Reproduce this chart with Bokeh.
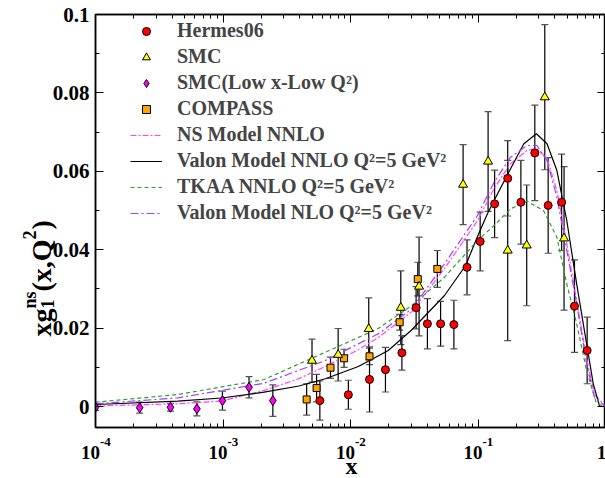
import math
from bokeh.plotting import figure
from bokeh.models import (Range1d, LogAxis, LinearAxis, FixedTicker, NumeralTickFormatter,
                          CustomJSTickFormatter, Whisker, TeeHead, ColumnDataSource,
                          Legend, LegendItem)
from bokeh.core.properties import value
from bokeh.embed import file_html
from bokeh.resources import INLINE

# ---------------- data ----------------
hermes_x = [0.00575, 0.00962, 0.0141, 0.0188, 0.0253, 0.0327, 0.0401, 0.0509, 0.0647, 0.082,
            0.104, 0.135, 0.171, 0.217, 0.279, 0.355, 0.453, 0.571, 0.718]
hermes_y = [0.0015, 0.0030, 0.0069, 0.0094, 0.0137, 0.0252, 0.0211, 0.0211, 0.0209, 0.0355,
            0.0421, 0.0517, 0.0582, 0.0521, 0.0647, 0.0513, 0.0521, 0.0256, 0.0143]
hermes_e = [0.0050, 0.0037, 0.0083, 0.0057, 0.0044, 0.0054, 0.0064, 0.0057, 0.0062, 0.0070,
            0.0075, 0.0086, 0.0096, 0.0107, 0.0122, 0.0122, 0.0123, 0.0118, 0.0085]

smc_x = [0.00499, 0.0080, 0.0139, 0.0248, 0.0345, 0.0764, 0.120, 0.171, 0.241, 0.334, 0.473]
smc_y = [0.0117, 0.0132, 0.0198, 0.0252, 0.0306, 0.0566, 0.0625, 0.0398, 0.0411, 0.0789, 0.0429]
smc_e = [0.0055, 0.0067, 0.0079, 0.0094, 0.0126, 0.0102, 0.0127, 0.0230, 0.0154, 0.0185, 0.0183]

smclow_x = [0.0001, 0.000222, 0.000387, 0.000624, 0.00099, 0.0016, 0.00246]
smclow_y = [-0.0002, -0.0003, -0.0002, -0.0006, 0.0015, 0.0049, 0.0015]
smclow_e = [0.0008, 0.0014, 0.0010, 0.0018, 0.0024, 0.0027, 0.0040]

compass_x = [0.00453, 0.00542, 0.00697, 0.0089, 0.0141, 0.0243, 0.0337, 0.048]
compass_y = [0.0018, 0.0047, 0.0099, 0.0123, 0.0128, 0.0215, 0.0325, 0.0351]
compass_e = [0.0040, 0.0035, 0.0027, 0.0023, 0.0021, 0.0020, 0.0043, 0.0047]

# Valon Model NNLO (black solid)
vnnlo_x = [1e-4, 4.43e-4, 9.73e-4, 2.10e-3, 3.94e-3, 6.35e-3, 0.01153, 0.01977, 0.02985, 0.0546,
           0.0800, 0.0991, 0.1186, 0.1337, 0.1800, 0.2290, 0.2871, 0.3477, 0.4156, 0.4969,
           0.5941, 0.7107, 0.8017, 0.8977, 1.0]
vnnlo_y = [0.00051, 0.00135, 0.00217, 0.00365, 0.00523, 0.00707, 0.01020, 0.01429, 0.01939, 0.02832,
           0.03597, 0.04337, 0.04916, 0.05255, 0.06064, 0.06702, 0.06957, 0.06702, 0.06020, 0.04745,
           0.03130, 0.01600, 0.00579, 0.00013, 0.0]

# TKAA NNLO (green dashed)
tkaa_x = [1e-4, 4.45e-4, 2.10e-3, 6.35e-3, 0.01652, 0.0303, 0.0546, 0.0991, 0.1337, 0.1800,
          0.2422, 0.3262, 0.4156, 0.4969, 0.5941, 0.7107, 0.8500, 1.0]
tkaa_y = [0.00110, 0.00306, 0.00689, 0.01385, 0.01990, 0.02577, 0.03298, 0.04235, 0.04617, 0.05043,
          0.05237, 0.05000, 0.04319, 0.03130, 0.02110, 0.00918, 0.00069, 0.0]

# Valon Model NLO (purple dash-dot)
vnlo_x = [1e-4, 4.45e-4, 2.10e-3, 6.35e-3, 0.01652, 0.0303, 0.0546, 0.0991, 0.1337, 0.1800,
          0.2422, 0.2895, 0.3477, 0.4156, 0.4969, 0.5941, 0.7107, 0.8191, 1.0]
vnlo_y = [0.00069, 0.00222, 0.00594, 0.01173, 0.01855, 0.02492, 0.03640, 0.04872, 0.05722, 0.06360,
          0.06658, 0.06658, 0.06276, 0.05339, 0.03980, 0.02620, 0.01089, 0.00237, 0.0]

# NS Model NNLO (pink dash-dot)
ns_x = [1e-4, 4.45e-4, 9.73e-4, 2.10e-3, 3.94e-3, 6.35e-3, 0.01153, 0.01652, 0.0303, 0.0546,
        0.0991, 0.1337, 0.1800, 0.2422, 0.2895, 0.3477, 0.4156, 0.4969, 0.5941, 0.7107, 0.8191, 1.0]
ns_y = [0.00013, 0.00069, 0.0014, 0.0041, 0.0071, 0.0102, 0.0145, 0.0176, 0.0242, 0.0352,
        0.0474, 0.0556, 0.0620, 0.0653, 0.0658, 0.0633, 0.0551, 0.0416, 0.0270, 0.0122, 0.0031, 0.0]

y_ticks = [0, 0.02, 0.04, 0.06, 0.08, 0.1]
y_minor = [0.01, 0.03, 0.05, 0.07, 0.09]
x_ticks = [1e-4, 1e-3, 1e-2, 1e-1, 1.0]
x_minor = [m * 10.0 ** e for e in range(-4, 0) for m in range(2, 10)]
x_tick_base = ["10", "10", "10", "10", "1"]
x_tick_exps = ["-4", "-3", "-2", "-1", ""]

legend_labels = ["Hermes06", "SMC", "SMC(Low x-Low Q\u00b2)", "COMPASS", "NS Model NNLO",
                 "Valon Model NNLO Q\u00b2=5 GeV\u00b2", "TKAA NNLO Q\u00b2=5 GeV\u00b2",
                 "Valon Model NLO Q\u00b2=5 GeV\u00b2"]

# ---------------- layout ----------------
W, H = 605, 478
FR_L, FR_R, FR_T, FR_B = 95, 605, 14, 427
YMAX = 0.1
YMIN = -0.1 * 21.0 / 392.0
FONT = "Liberation Serif"

def sx(px):
    return 10 ** (-4 + 4.0 * (px - FR_L) / (FR_R - FR_L))

def sy(py):
    return YMAX - (py - FR_T) * (YMAX - YMIN) / (FR_B - FR_T)

p = figure(width=W, height=H, x_axis_type="log", x_range=Range1d(1e-4, 1.0),
           y_range=Range1d(YMIN, YMAX), output_backend="svg", toolbar_location=None,
           min_border_left=FR_L, min_border_right=W - FR_R, min_border_top=FR_T,
           min_border_bottom=H - FR_B)
p.xgrid.visible = False
p.ygrid.visible = False
p.outline_line_color = "black"
p.outline_line_width = 1.5
p.background_fill_color = "white"
p.border_fill_color = "white"

empty = CustomJSTickFormatter(code="return ''")

def style_axis(ax, labels=True):
    ax.axis_line_width = 1.5
    ax.axis_line_color = "black"
    ax.major_tick_in = 8
    ax.major_tick_out = 0
    ax.minor_tick_in = 4
    ax.minor_tick_out = 0
    ax.major_tick_line_width = 1
    ax.minor_tick_line_width = 1
    if not labels:
        ax.formatter = empty
        ax.major_label_text_font_size = "0px"
        ax.major_label_standoff = 0

xb = p.xaxis[0]
xb.ticker = FixedTicker(ticks=x_ticks, minor_ticks=x_minor)
style_axis(xb, labels=False)

yl = p.yaxis[0]
yl.ticker = FixedTicker(ticks=y_ticks, minor_ticks=y_minor)
yl.formatter = NumeralTickFormatter(format="0.[00]")
style_axis(yl)
yl.major_label_text_font = FONT
yl.major_label_text_font_style = "bold"
yl.major_label_text_font_size = "21px"
yl.major_label_text_color = "black"
yl.major_label_standoff = 6

xt = LogAxis(ticker=FixedTicker(ticks=x_ticks, minor_ticks=x_minor))
style_axis(xt, labels=False)
p.add_layout(xt, "above")
yr = LinearAxis(ticker=FixedTicker(ticks=y_ticks, minor_ticks=y_minor))
style_axis(yr, labels=False)
p.add_layout(yr, "right")

# ---------------- curves ----------------
r_ns = p.line(ns_x, ns_y, line_color="#ff44ff", line_width=1.2, line_dash="6 2 2 2")
r_vnnlo = p.line(vnnlo_x, vnnlo_y, line_color="black", line_width=1.2)
r_tkaa = p.line(tkaa_x, tkaa_y, line_color="#2e9e2e", line_width=1.2, line_dash="4 3")
r_vnlo = p.line(vnlo_x, vnlo_y, line_color="#a040f0", line_width=1.2, line_dash="8 3 2 3")

# ---------------- data with error bars ----------------
def add_set(xs, ys, es, marker, size, color):
    src = ColumnDataSource(dict(x=xs, y=ys, lo=[a - b for a, b in zip(ys, es)],
                                hi=[a + b for a, b in zip(ys, es)]))
    w = Whisker(base="x", lower="lo", upper="hi", source=src, dimension="height",
                line_color="black", line_width=1.2,
                upper_head=TeeHead(size=7, line_color="#555555", line_width=1.2),
                lower_head=TeeHead(size=7, line_color="#555555", line_width=1.2))
    p.add_layout(w)
    return p.scatter("x", "y", source=src, marker=marker, size=size, fill_color=color,
                     line_color="black", line_width=1)

r_smclow = add_set(smclow_x, smclow_y, smclow_e, "diamond", 10, "#ff00ff")
r_compass = add_set(compass_x, compass_y, compass_e, "square", 7, "#ffa500")
r_smc = add_set(smc_x, smc_y, smc_e, "triangle", 9, "#ffff00")
r_hermes = add_set(hermes_x, hermes_y, hermes_e, "circle", 8, "#ff0000")

# ---------------- legend ----------------
renderers = [r_hermes, r_smc, r_smclow, r_compass, r_ns, r_vnnlo, r_tkaa, r_vnlo]
legend = Legend(items=[LegendItem(label=t, renderers=[r]) for t, r in zip(legend_labels, renderers)],
                location=(35, 203), label_text_font=FONT, label_text_font_style="bold",
                label_text_font_size="20px", glyph_width=32, glyph_height=20, label_height=20,
                spacing=3, padding=0, margin=0, border_line_color=None,
                background_fill_alpha=0, label_standoff=15)
p.add_layout(legend)

# ---------------- texts outside the frame (overlay level -> not clipped) ----------------
def txt(xs, ys, texts, size, align="left", angle=0.0, x_offset=0):
    p.text(x=xs, y=ys, text=texts, text_font=value(FONT), text_font_style="bold",
           text_font_size=value(size), text_align=align, text_baseline="alphabetic",
           text_color="black", angle=angle, x_offset=x_offset, level="overlay")

# x tick labels: base "10" and superscript exponent
txt(x_ticks[:-1], [sy(452)] * 4, x_tick_base[:-1], "19px", align="right", x_offset=4.5)
txt(x_ticks[:-1], [sy(441)] * 4, x_tick_exps[:-1], "13px", align="left", x_offset=4.5)
txt(x_ticks[-1:], [sy(452)], x_tick_base[-1:], "19px", align="center", x_offset=-4)

# x axis title
txt([sx(351)], [sy(465)], ["x"], "24px", align="center")

# y axis title: xg_1^ns(x,Q^2), rotated
A = math.pi / 2
txt([sx(41)], [sy(336)], ["xg"], "28px", angle=A)
txt([sx(47)], [sy(308)], ["1"], "18px", angle=A)
txt([sx(29)], [sy(308)], ["ns"], "18px", angle=A)
txt([sx(41)], [sy(291)], ["(x,Q"], "28px", angle=A)
txt([sx(29)], [sy(239)], ["2"], "18px", angle=A)
txt([sx(41)], [sy(229)], [")"], "28px", angle=A)

open("out.html", "w").write(file_html(p, INLINE))
